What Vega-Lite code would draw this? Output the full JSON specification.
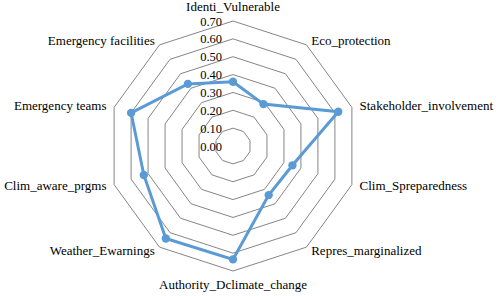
{
  "$schema": "https://vega.github.io/schema/vega-lite/v6.json",
  "width": 250,
  "height": 250,
  "autosize": "none",
  "padding": {"left": 108, "top": 21, "right": 138, "bottom": 25},
  "background": "white",
  "config": {"view": {"stroke": null}},
  "datasets": {
    "scores": [
      {"axis": "Identi_Vulnerable", "i": 0, "value": 0.36},
      {"axis": "Eco_protection", "i": 1, "value": 0.29},
      {"axis": "Stakeholder_involvement", "i": 2, "value": 0.62},
      {"axis": "Clim_Spreparedness", "i": 3, "value": 0.35},
      {"axis": "Repres_marginalized", "i": 4, "value": 0.34},
      {"axis": "Authority_Dclimate_change", "i": 5, "value": 0.635},
      {"axis": "Weather_Ewarnings", "i": 6, "value": 0.64},
      {"axis": "Clim_aware_prgms", "i": 7, "value": 0.525},
      {"axis": "Emergency teams", "i": 8, "value": 0.6},
      {"axis": "Emergency facilities", "i": 9, "value": 0.43}
    ],
    "rings": [
      {"level": 0.1, "i": [0,1,2,3,4,5,6,7,8,9]},
      {"level": 0.2, "i": [0,1,2,3,4,5,6,7,8,9]},
      {"level": 0.3, "i": [0,1,2,3,4,5,6,7,8,9]},
      {"level": 0.4, "i": [0,1,2,3,4,5,6,7,8,9]},
      {"level": 0.5, "i": [0,1,2,3,4,5,6,7,8,9]},
      {"level": 0.6, "i": [0,1,2,3,4,5,6,7,8,9]},
      {"level": 0.7, "i": [0,1,2,3,4,5,6,7,8,9]}
    ],
    "ticks": [
      {"level": 0.0}, {"level": 0.1}, {"level": 0.2}, {"level": 0.3},
      {"level": 0.4}, {"level": 0.5}, {"level": 0.6}, {"level": 0.7}
    ]
  },
  "layer": [
    {
      "data": {"name": "rings"},
      "transform": [
        {"flatten": ["i"]},
        {"calculate": "datum.level * sin(datum.i * PI / 5)", "as": "x"},
        {"calculate": "datum.level * cos(datum.i * PI / 5)", "as": "y"}
      ],
      "mark": {"type": "line", "interpolate": "linear-closed", "stroke": "#858585", "strokeWidth": 1},
      "encoding": {
        "x": {"field": "x", "type": "quantitative", "scale": {"domain": [-0.7, 0.7], "nice": false, "zero": false}, "axis": null},
        "y": {"field": "y", "type": "quantitative", "scale": {"domain": [-0.7, 0.7], "nice": false, "zero": false}, "axis": null},
        "detail": {"field": "level"},
        "order": {"field": "i"}
      }
    },
    {
      "data": {"name": "ticks"},
      "transform": [{"calculate": "0", "as": "x"}],
      "mark": {"type": "text", "align": "right", "baseline": "middle", "dx": -11, "dy": 0.5, "font": "Liberation Serif, Times New Roman, serif", "fontSize": 12.5, "color": "#000000"},
      "encoding": {
        "x": {"field": "x", "type": "quantitative"},
        "y": {"field": "level", "type": "quantitative"},
        "text": {"field": "level", "type": "quantitative", "format": ".2f"}
      }
    },
    {
      "data": {"name": "scores"},
      "transform": [
        {"calculate": "datum.value * sin(datum.i * PI / 5)", "as": "x"},
        {"calculate": "datum.value * cos(datum.i * PI / 5)", "as": "y"}
      ],
      "layer": [
        {
          "mark": {"type": "line", "interpolate": "linear-closed", "stroke": "#5B9BD5", "strokeWidth": 3},
          "encoding": {
            "x": {"field": "x", "type": "quantitative"},
            "y": {"field": "y", "type": "quantitative"},
            "order": {"field": "i"}
          }
        },
        {
          "mark": {"type": "point", "filled": true, "shape": "circle", "size": 70, "color": "#5B9BD5", "opacity": 1},
          "encoding": {
            "x": {"field": "x", "type": "quantitative"},
            "y": {"field": "y", "type": "quantitative"}
          }
        }
      ]
    },
    {
      "data": {"name": "scores"},
      "transform": [
        {"filter": "datum.i == 0 || datum.i == 5"},
        {"calculate": "datum.i == 0 ? 0.779 : -0.78", "as": "ly"},
        {"calculate": "0", "as": "lx"}
      ],
      "mark": {"type": "text", "align": "center", "baseline": "middle", "font": "Liberation Serif, Times New Roman, serif", "fontSize": 13, "color": "#000000"},
      "encoding": {
        "x": {"field": "lx", "type": "quantitative"},
        "y": {"field": "ly", "type": "quantitative"},
        "text": {"field": "axis"}
      }
    },
    {
      "data": {"name": "scores"},
      "transform": [
        {"filter": "datum.i >= 1 && datum.i <= 4"},
        {"calculate": "0.745 * sin(datum.i * PI / 5)", "as": "lx"},
        {"calculate": "0.73 * cos(datum.i * PI / 5)", "as": "ly"}
      ],
      "mark": {"type": "text", "align": "left", "baseline": "middle", "font": "Liberation Serif, Times New Roman, serif", "fontSize": 13, "color": "#000000"},
      "encoding": {
        "x": {"field": "lx", "type": "quantitative"},
        "y": {"field": "ly", "type": "quantitative"},
        "text": {"field": "axis"}
      }
    },
    {
      "data": {"name": "scores"},
      "transform": [
        {"filter": "datum.i >= 6 && datum.i <= 9"},
        {"calculate": "0.745 * sin(datum.i * PI / 5)", "as": "lx"},
        {"calculate": "0.73 * cos(datum.i * PI / 5)", "as": "ly"}
      ],
      "mark": {"type": "text", "align": "right", "baseline": "middle", "font": "Liberation Serif, Times New Roman, serif", "fontSize": 13, "color": "#000000"},
      "encoding": {
        "x": {"field": "lx", "type": "quantitative"},
        "y": {"field": "ly", "type": "quantitative"},
        "text": {"field": "axis"}
      }
    }
  ]
}
